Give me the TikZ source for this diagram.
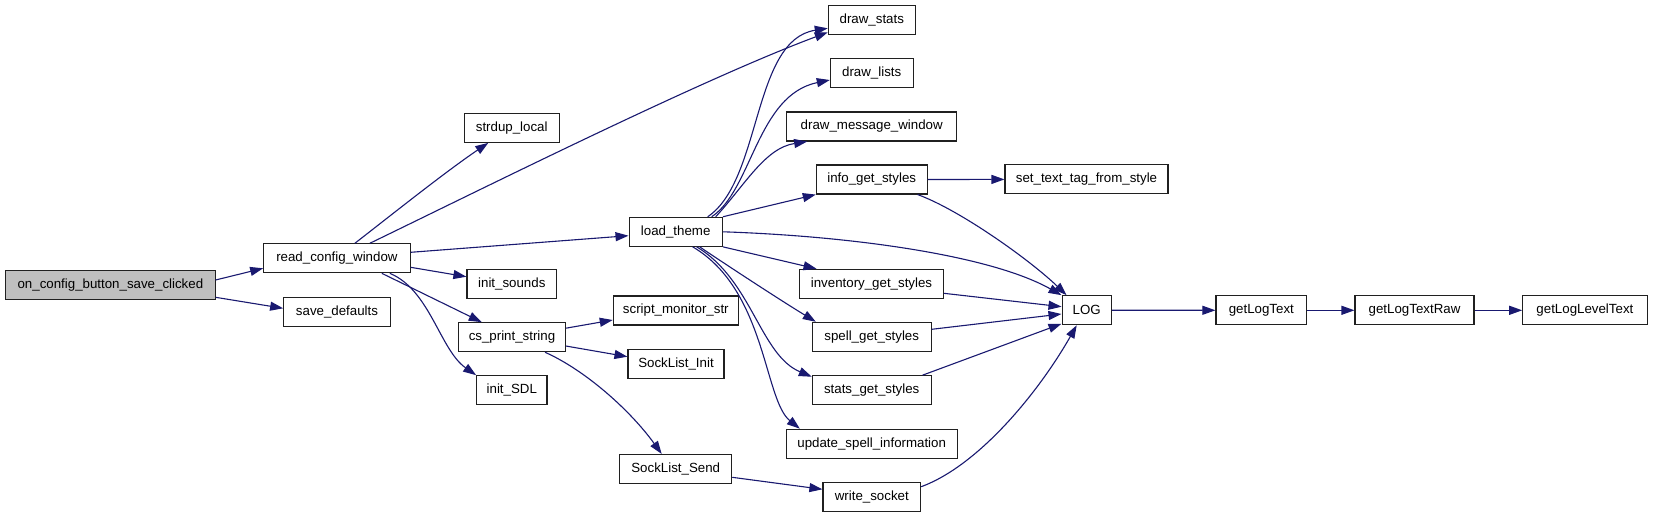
\documentclass[tikz,border=0pt]{standalone}
\usepackage{fontspec}
\setmainfont{Liberation Sans}
\usetikzlibrary{arrows.meta}
\definecolor{edgeblue}{HTML}{191970}
\definecolor{rootgray}{HTML}{BFBFBF}
\definecolor{boxline}{HTML}{202020}
\begin{document}
\begin{tikzpicture}[x=1pt,y=-1pt,
  fn/.style={draw=boxline,line width=1.1pt,rectangle,minimum height=29pt,inner sep=0pt,font=\fontsize{13.3}{15}\selectfont,fill=white},
  call/.style={draw=edgeblue,line width=1.1pt,-{Triangle[length=13pt,width=9pt]}}]
\useasboundingbox (0,0) rectangle (1653,517);
\fill[white] (0,0) rectangle (1653,517);
% nodes
\node[fn,fill=rootgray,minimum width=209.3pt] (oc) at (110.4,285) {on\_config\_button\_save\_clicked};
\node[fn,minimum width=146.3pt] (rcw) at (336.9,258.3) {read\_config\_window};
\node[fn,minimum width=106.6pt] (sd) at (337,311.8) {save\_defaults};
\node[fn,minimum width=94.7pt] (sl) at (511.7,127.8) {strdup\_local};
\node[fn,minimum width=89.7pt] (is) at (511.8,283.8) {init\_sounds};
\node[fn,minimum width=106.6pt] (cs) at (512,337.2) {cs\_print\_string};
\node[fn,minimum width=70.3pt] (isdl) at (511.8,390.2) {init\_SDL};
\node[fn,minimum width=93.3pt] (lt) at (675.7,231.8) {load\_theme};
\node[fn,minimum width=125pt] (sms) at (675.8,310.5) {script\_monitor\_str};
\node[fn,minimum width=96pt] (sli) at (676,363.6) {SockList\_Init};
\node[fn,minimum width=112pt] (sls) at (675.7,469) {SockList\_Send};
\node[fn,minimum width=87pt] (ds) at (871.8,19.7) {draw\_stats};
\node[fn,minimum width=82.7pt] (dl) at (871.7,73.2) {draw\_lists};
\node[fn,minimum width=170pt] (dmw) at (871.7,126.5) {draw\_message\_window};
\node[fn,minimum width=110.7pt] (igs) at (871.7,179.5) {info\_get\_styles};
\node[fn,minimum width=143.6pt] (inv) at (871.5,283.8) {inventory\_get\_styles};
\node[fn,minimum width=118.7pt] (spg) at (871.7,336.8) {spell\_get\_styles};
\node[fn,minimum width=118.7pt] (stg) at (871.7,390.2) {stats\_get\_styles};
\node[fn,minimum width=170.7pt] (usi) at (871.7,443.7) {update\_spell\_information};
\node[fn,minimum width=97.7pt] (ws) at (871.8,496.7) {write\_socket};
\node[fn,minimum width=163pt] (stt) at (1086.5,179.4) {set\_text\_tag\_from\_style};
\node[fn,minimum width=49.3pt] (log) at (1086.7,310.2) {LOG};
\node[fn,minimum width=90.7pt] (glt) at (1261.3,310.3) {getLogText};
\node[fn,minimum width=119pt] (gltr) at (1414.5,310.3) {getLogTextRaw};
\node[fn,minimum width=124.3pt] (glvl) at (1584.9,310.3) {getLogLevelText};
% edges
\draw[call] ([yshift=5pt]oc.east) -- ([yshift=-10pt]rcw.west);
\draw[call] ([yshift=-12.3pt]oc.east) -- ([yshift=3.5pt]sd.west);
\draw[call] ([xshift=18pt]rcw.north) .. controls (385,220) and (445,172) .. ([xshift=-23.4pt]sl.south);
\draw[call] ([xshift=33pt]rcw.north) .. controls (480,190) and (700,80) .. ([yshift=-12.6pt]ds.west);
\draw[call] ([yshift=6pt]rcw.east) -- ([yshift=-3.9pt]lt.west);
\draw[call] ([yshift=-9pt]rcw.east) -- ([yshift=7.1pt]is.west);
\draw[call] ([xshift=45pt]rcw.south) -- ([xshift=-30.3pt]cs.north);
\draw[call] ([xshift=53pt]rcw.south) .. controls (430,290) and (440,350) .. (isdl.north west);
% load_theme
\draw[call] ([xshift=32pt]lt.north) .. controls (762,180) and (752,40) .. ([yshift=-8.6pt]ds.west);
\draw[call] ([xshift=36pt]lt.north) .. controls (752,190) and (757,95) .. ([yshift=-6.8pt]dl.west);
\draw[call] ([xshift=40pt]lt.north) .. controls (745,185) and (765,148) .. ([xshift=21pt]dmw.south west);
\draw[call] (lt.north east) -- (igs.south west);
\draw[call] (lt.east) .. controls (850,236) and (990,255) .. (log.north west);
\draw[call] (lt.south east) -- ([xshift=-55pt]inv.north);
\draw[call] ([xshift=24pt]lt.south) .. controls (722,262) and (780,300) .. ([xshift=4pt]spg.north west);
\draw[call] ([xshift=21pt]lt.south) .. controls (752,280) and (760,355) .. ([yshift=-1.6pt]stg.north west);
\draw[call] ([xshift=17pt]lt.south) .. controls (766,290) and (764,400) .. ([xshift=14pt]usi.north west);
% styles -> LOG
\draw[call] (igs.east) -- (stt.west);
\draw[call] ([xshift=-10pt]igs.south east) .. controls (960,210) and (1030,260) .. ([xshift=5pt]log.north west);
\draw[call] ([yshift=-9.5pt]inv.east) -- ([yshift=3.5pt]log.west);
\draw[call] ([yshift=7.5pt]spg.east) -- ([yshift=-3.8pt]log.west);
\draw[call] ([xshift=-9pt]stg.north east) -- ([yshift=1.5pt]log.south west);
\draw[call] ([yshift=10pt]ws.east) .. controls (980,465) and (1040,390) .. ([xshift=-10pt]log.south);
\draw[call] (log.east) -- (glt.west);
\draw[call] (glt.east) -- (gltr.west);
\draw[call] (gltr.east) -- (glvl.west);
% cs_print_string
\draw[call] ([yshift=9pt]cs.east) -- ([yshift=-9.5pt]sms.west);
\draw[call] ([yshift=-8.8pt]cs.east) -- ([yshift=6.9pt]sli.west);
\draw[call] ([xshift=33pt]cs.south) .. controls (585,370) and (630,410) .. ([xshift=-14pt]sls.north);
\draw[call] ([yshift=-8.3pt]sls.east) -- ([yshift=7.4pt]ws.west);
\end{tikzpicture}
\end{document}
